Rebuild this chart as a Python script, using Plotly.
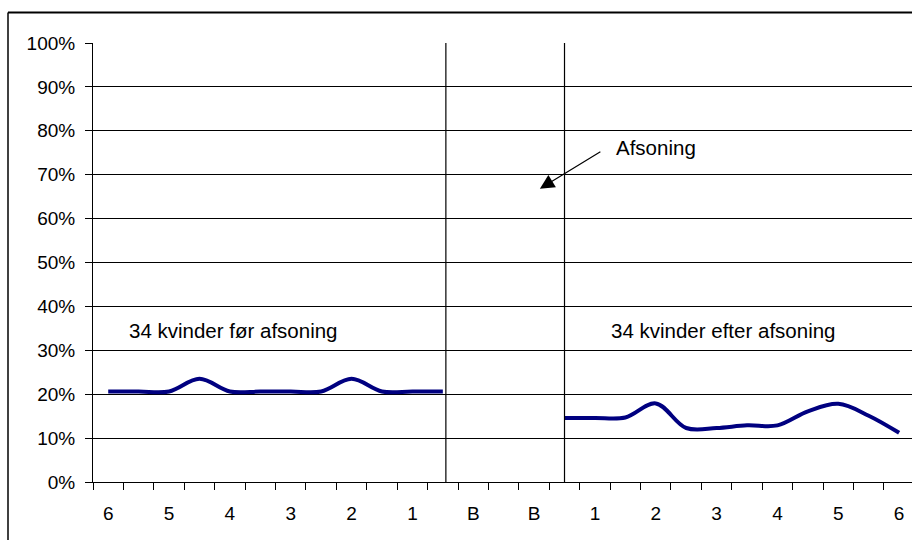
import plotly.graph_objects as go

# ---- data ----
x_labels = ["6", "5", "4", "3", "2", "1", "B", "B", "1", "2", "3", "4", "5", "6"]
n_categories = 27
before_x = list(range(0, 12))
before_values = [0.206, 0.206, 0.206, 0.235, 0.206, 0.206, 0.206, 0.206, 0.235, 0.206, 0.206, 0.206]
after_x = list(range(15, 27))
after_values = [0.146, 0.146, 0.147, 0.179, 0.123, 0.123, 0.129, 0.129, 0.161, 0.178, 0.151, 0.112]
y_ticks = [i / 10 for i in range(11)]

label_font = dict(family="Liberation Sans, Arial, sans-serif", size=19, color="black")
ann_font = dict(family="Liberation Sans, Arial, sans-serif", size=20.5, color="black")

fig = go.Figure()
for xs, ys in [(before_x, before_values), (after_x, after_values)]:
    fig.add_trace(go.Scatter(
        x=xs, y=ys, mode="lines",
        line=dict(color="#000080", width=4, shape="spline", smoothing=1),
        showlegend=False, hoverinfo="skip",
    ))

L, T, B = 93, 43, 58
W, H = 912, 540
plot_w = W - L
cat_w = 30.42

fig.update_layout(
    width=W, height=H,
    margin=dict(l=L, r=0, t=T, b=B, pad=0),
    paper_bgcolor="white", plot_bgcolor="white",
    showlegend=False,
    font=label_font,
)

fig.update_xaxes(
    range=[-0.5, -0.5 + plot_w / cat_w],
    tickmode="array",
    tickvals=list(range(0, n_categories, 2)),
    ticktext=x_labels,
    ticks="",
    showgrid=False,
    zeroline=False,
    showline=True, linecolor="black", linewidth=1,
    tickfont=label_font,
    ticklabelstandoff=14,
    minor=dict(
        tickmode="array",
        tickvals=[i - 0.5 for i in range(n_categories + 1)],
        ticks="outside", ticklen=7, tickcolor="black", tickwidth=1,
        showgrid=False,
    ),
)

fig.update_yaxes(
    range=[0, 1],
    tickmode="array",
    tickvals=y_ticks,
    tickformat=".0%",
    ticks="outside", ticklen=7, tickcolor="black", tickwidth=1,
    showgrid=True, gridcolor="black", gridwidth=1,
    zeroline=False,
    showline=True, linecolor="black", linewidth=1,
    tickfont=label_font,
    ticklabelstandoff=6,
)

# separator lines
for xv in [11.1, 15.0]:
    fig.add_shape(type="line", xref="x", yref="paper", x0=xv, x1=xv, y0=0, y1=1,
                  line=dict(color="black", width=1.2), layer="above")

# outer chart border (top and left edges visible)
plot_h = H - T - B
bx = (8 - L) / plot_w
by = (H - B - 12.5) / plot_h
fig.add_shape(type="line", xref="paper", yref="paper", x0=bx, x1=1.0, y0=by, y1=by,
              line=dict(color="black", width=2))
fig.add_shape(type="line", xref="paper", yref="paper", x0=bx, x1=bx, y0=by, y1=-0.2,
              line=dict(color="black", width=1.5))

fig.add_annotation(x=4.13, y=0.344, xref="x", yref="y", text="34 kvinder før afsoning",
                   showarrow=False, font=ann_font)
fig.add_annotation(x=20.23, y=0.344, xref="x", yref="y", text="34 kvinder efter afsoning",
                   showarrow=False, font=ann_font)
fig.add_annotation(x=18.02, y=0.763, xref="x", yref="y", text="Afsoning",
                   showarrow=False, font=ann_font)
fig.add_annotation(x=14.19, y=0.668, xref="x", yref="y", text="",
                   showarrow=True, ax=62, ay=-38, axref="pixel", ayref="pixel",
                   arrowhead=2, arrowsize=2.4, arrowwidth=1.2, arrowcolor="black", standoff=0)

fig.write_html("out.html", config={"displayModeBar": False})
